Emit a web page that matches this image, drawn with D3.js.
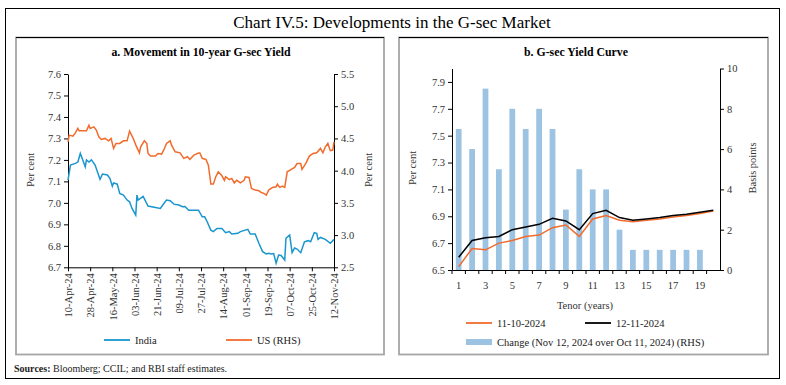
<!DOCTYPE html>
<html>
<head>
<meta charset="utf-8">
<script src="https://cdn.jsdelivr.net/npm/d3@7"></script>
<style>
body { margin: 0; background: #fff; }
svg { display: block; font-family: "Liberation Serif", "Times New Roman", serif; }
.tick text { fill: #333; }
</style>
</head>
<body>
<script>
// panel a: 10-year yields
var indiaDates = ["2024-04-10","2024-04-12","2024-04-16","2024-04-18","2024-04-20","2024-04-22","2024-04-24","2024-04-25","2024-04-27","2024-04-29","2024-05-02","2024-05-06","2024-05-08","2024-05-12","2024-05-14","2024-05-16","2024-05-17","2024-05-20","2024-05-22","2024-05-25","2024-05-28","2024-05-30","2024-06-01","2024-06-04","2024-06-05","2024-06-06","2024-06-10","2024-06-14","2024-06-19","2024-06-24","2024-06-27","2024-06-29","2024-07-02","2024-07-05","2024-07-09","2024-07-12","2024-07-14","2024-07-17","2024-07-21","2024-07-25","2024-07-28","2024-07-30","2024-08-01","2024-08-04","2024-08-06","2024-08-09","2024-08-13","2024-08-16","2024-08-19","2024-08-21","2024-08-26","2024-08-28","2024-09-03","2024-09-05","2024-09-09","2024-09-12","2024-09-15","2024-09-18","2024-09-20","2024-09-22","2024-09-24","2024-09-26","2024-09-28","2024-09-30","2024-10-03","2024-10-04","2024-10-07","2024-10-09","2024-10-11","2024-10-13","2024-10-16","2024-10-19","2024-10-22","2024-10-24","2024-10-27","2024-10-29","2024-10-30","2024-11-01","2024-11-05","2024-11-09","2024-11-12"];
var indiaVals = [7.106,7.176,7.184,7.19,7.23,7.20,7.168,7.20,7.19,7.20,7.176,7.11,7.134,7.13,7.114,7.078,7.093,7.087,7.044,7.036,7.013,7.005,6.974,6.943,7.036,7.013,7.03,6.985,6.98,6.974,6.998,7.013,7.01,6.994,6.99,6.982,6.983,6.966,6.966,6.966,6.935,6.935,6.912,6.873,6.866,6.881,6.881,6.861,6.866,6.855,6.858,6.866,6.877,6.855,6.855,6.812,6.773,6.762,6.765,6.762,6.764,6.719,6.757,6.755,6.734,6.835,6.85,6.768,6.79,6.785,6.768,6.819,6.824,6.819,6.861,6.858,6.83,6.839,6.83,6.812,6.83];
var usDates = ["2024-04-10","2024-04-11","2024-04-14","2024-04-16","2024-04-18","2024-04-19","2024-04-22","2024-04-25","2024-04-27","2024-04-28","2024-05-01","2024-05-03","2024-05-05","2024-05-07","2024-05-10","2024-05-13","2024-05-15","2024-05-17","2024-05-19","2024-05-22","2024-05-25","2024-05-28","2024-05-30","2024-06-02","2024-06-04","2024-06-07","2024-06-08","2024-06-11","2024-06-13","2024-06-14","2024-06-16","2024-06-20","2024-06-22","2024-06-25","2024-06-27","2024-06-29","2024-07-02","2024-07-03","2024-07-06","2024-07-10","2024-07-13","2024-07-16","2024-07-18","2024-07-21","2024-07-24","2024-07-26","2024-07-28","2024-07-31","2024-08-02","2024-08-04","2024-08-06","2024-08-08","2024-08-10","2024-08-13","2024-08-15","2024-08-16","2024-08-19","2024-08-21","2024-08-23","2024-08-25","2024-08-28","2024-08-31","2024-09-01","2024-09-04","2024-09-06","2024-09-09","2024-09-12","2024-09-14","2024-09-16","2024-09-18","2024-09-20","2024-09-23","2024-09-26","2024-09-27","2024-09-29","2024-10-01","2024-10-03","2024-10-05","2024-10-08","2024-10-11","2024-10-13","2024-10-16","2024-10-17","2024-10-20","2024-10-23","2024-10-26","2024-10-29","2024-11-01","2024-11-03","2024-11-05","2024-11-07","2024-11-09","2024-11-11","2024-11-12"];
var usVals = [4.447,4.551,4.536,4.587,4.655,4.618,4.618,4.618,4.706,4.655,4.68,4.63,4.525,4.484,4.50,4.463,4.50,4.345,4.422,4.422,4.463,4.463,4.613,4.50,4.40,4.277,4.37,4.463,4.42,4.267,4.226,4.226,4.267,4.257,4.329,4.422,4.463,4.40,4.292,4.277,4.19,4.216,4.174,4.236,4.267,4.277,4.19,4.174,4.086,3.791,3.791,3.905,3.982,3.92,3.85,3.905,3.86,3.88,3.81,3.85,3.81,3.85,3.905,3.895,3.725,3.698,3.687,3.66,3.647,3.62,3.698,3.74,3.75,3.79,3.74,3.76,3.74,3.982,4.017,4.05,4.11,4.11,4.02,4.11,4.226,4.267,4.277,4.345,4.277,4.37,4.422,4.31,4.32,4.447];

// panel b: yield curve
var tenors = [1,2,3,4,5,6,7,8,9,10,11,12,13,14,15,16,17,18,19,20];
var curveOct = [6.525,6.66,6.65,6.70,6.72,6.75,6.76,6.815,6.835,6.75,6.88,6.905,6.87,6.86,6.87,6.88,6.895,6.905,6.92,6.94];
var curveNov = [6.595,6.72,6.74,6.75,6.80,6.82,6.84,6.885,6.865,6.80,6.92,6.945,6.89,6.87,6.88,6.89,6.905,6.915,6.93,6.945];
var changeBp = [7,6,9,5,8,7,8,7,3,5,4,4,2,1,1,1,1,1,1,null];

var W = 786, H = 385;
var svg = d3.select("body").append("svg").attr("width", W).attr("height", H);
var parse = d3.timeParse("%Y-%m-%d");

// frames
svg.append("rect").attr("x", 5.5).attr("y", 8.5).attr("width", 774).attr("height", 370)
	.attr("fill", "none").attr("stroke", "#000").attr("stroke-width", 1);
svg.append("text").attr("x", 392).attr("y", 28).attr("text-anchor", "middle")
	.style("font-size", "17px").text("Chart IV.5: Developments in the G-sec Market");

function panelBox(x0, x1) {
	svg.append("rect").attr("x", x0).attr("y", 37.5).attr("width", x1 - x0).attr("height", 317)
		.attr("fill", "none").attr("stroke", "#a6a6a6").attr("stroke-width", 1.8);
	svg.append("line").attr("x1", x0).attr("x2", x1).attr("y1", 37.5).attr("y2", 37.5)
		.attr("stroke", "#000").attr("stroke-width", 1.2);
}
panelBox(16, 384);
panelBox(399, 768);

svg.append("text").attr("x", 201).attr("y", 56).attr("text-anchor", "middle")
	.style("font-size", "11.8px").style("font-weight", "bold").text("a. Movement in 10-year G-sec Yield");
svg.append("text").attr("x", 576).attr("y", 56).attr("text-anchor", "middle")
	.style("font-size", "11.8px").style("font-weight", "bold").text("b. G-sec Yield Curve");

function styleAxis(g) {
	g.selectAll(".tick text").style("font-size", "10.5px").style("font-family", "Liberation Serif, serif");
	g.select(".domain").attr("stroke", "#000");
	g.selectAll(".tick line").attr("stroke", "#000");
}

// ---- panel a
var start = parse("2024-04-10"), end = parse("2024-11-12");
var xa = d3.scaleTime().domain([start, end]).range([68, 334]);
var yaL = d3.scaleLinear().domain([6.7, 7.6]).range([267.3, 74]);
var yaR = d3.scaleLinear().domain([2.5, 5.5]).range([267.3, 74]);
var dateTicks = d3.range(0, 217, 18).map(function(d) { return d3.timeDay.offset(start, d); });

var gxa = svg.append("g").attr("transform", "translate(0,267.3)")
	.call(d3.axisBottom(xa).tickValues(dateTicks).tickFormat(d3.timeFormat("%d-%b-%y")).tickSize(4).tickSizeOuter(0));
styleAxis(gxa);
gxa.selectAll(".tick text").attr("transform", "rotate(-90)").attr("text-anchor", "end")
	.attr("x", -6).attr("y", 0).attr("dy", "0.35em");

var gyaL = svg.append("g").attr("transform", "translate(68,0)")
	.call(d3.axisLeft(yaL).tickValues(d3.range(6.7, 7.61, 0.1)).tickFormat(d3.format(".1f")).tickSize(4).tickSizeOuter(0));
styleAxis(gyaL);
var gyaR = svg.append("g").attr("transform", "translate(334,0)")
	.call(d3.axisRight(yaR).tickValues(d3.range(2.5, 5.51, 0.5)).tickFormat(d3.format(".1f")).tickSize(4).tickSizeOuter(0));
styleAxis(gyaR);

svg.append("text").attr("transform", "translate(34,170) rotate(-90)").attr("text-anchor", "middle")
	.style("font-size", "10.5px").attr("fill", "#333").text("Per cent");
svg.append("text").attr("transform", "translate(372,170) rotate(-90)").attr("text-anchor", "middle")
	.style("font-size", "10.5px").attr("fill", "#333").text("Per cent");

var india = indiaDates.map(function(d, i) { return { date: parse(d), v: indiaVals[i] }; });
var us = usDates.map(function(d, i) { return { date: parse(d), v: usVals[i] }; });

svg.append("path").datum(india).attr("fill", "none").attr("stroke", "#1a96cf").attr("stroke-width", 1.5)
	.attr("d", d3.line().x(function(d) { return xa(d.date); }).y(function(d) { return yaL(d.v); }));
svg.append("path").datum(us).attr("fill", "none").attr("stroke", "#f26b2d").attr("stroke-width", 1.5)
	.attr("d", d3.line().x(function(d) { return xa(d.date); }).y(function(d) { return yaR(d.v); }));

function legendLine(x, y, color, label) {
	svg.append("line").attr("x1", x).attr("x2", x + 26).attr("y1", y).attr("y2", y)
		.attr("stroke", color).attr("stroke-width", 1.8);
	svg.append("text").attr("x", x + 31).attr("y", y + 3.5).style("font-size", "10.5px").attr("fill", "#222").text(label);
}
legendLine(104, 340, "#1a96cf", "India");
legendLine(226, 340, "#f26b2d", "US (RHS)");

// ---- panel b
var xb = d3.scaleBand().domain(tenors).range([452, 720]);
var ybL = d3.scaleLinear().domain([6.5, 8.0]).range([270, 68.5]);
var ybR = d3.scaleLinear().domain([0, 10]).range([270, 68.5]);

var barW = xb.bandwidth() * 0.43;
svg.append("g").selectAll("rect").data(tenors.filter(function(t, i) { return changeBp[i] != null; }))
	.enter().append("rect")
	.attr("x", function(t) { return xb(t) + (xb.bandwidth() - barW) / 2; })
	.attr("width", barW)
	.attr("y", function(t) { return ybR(changeBp[t - 1]); })
	.attr("height", function(t) { return ybR(0) - ybR(changeBp[t - 1]); })
	.attr("fill", "#9dc3e2");

var lineB = d3.line().x(function(d, i) { return xb(tenors[i]) + xb.bandwidth() / 2; }).y(function(d) { return ybL(d); });
svg.append("path").datum(curveOct).attr("fill", "none").attr("stroke", "#f26b2d").attr("stroke-width", 1.5).attr("d", lineB);
svg.append("path").datum(curveNov).attr("fill", "none").attr("stroke", "#000").attr("stroke-width", 1.5).attr("d", lineB);

var gxb = svg.append("g").attr("transform", "translate(0,270)")
	.call(d3.axisBottom(xb).tickValues(tenors.filter(function(t) { return t % 2 == 1; })).tickSize(0).tickSizeOuter(0).tickPadding(12));
styleAxis(gxb);
// tick marks between categories
svg.append("g").selectAll("line").data(tenors).enter().append("line")
	.attr("x1", function(t) { return xb(t); }).attr("x2", function(t) { return xb(t); })
	.attr("y1", 270).attr("y2", 274).attr("stroke", "#000");

var gybL = svg.append("g").attr("transform", "translate(452,0)")
	.call(d3.axisLeft(ybL).tickValues(d3.range(6.5, 7.91, 0.2)).tickFormat(d3.format(".1f")).tickSize(4).tickSizeOuter(0));
styleAxis(gybL);
var gybR = svg.append("g").attr("transform", "translate(720,0)")
	.call(d3.axisRight(ybR).tickValues(d3.range(0, 11, 2)).tickSize(4).tickSizeOuter(0));
styleAxis(gybR);

svg.append("text").attr("transform", "translate(416,168) rotate(-90)").attr("text-anchor", "middle")
	.style("font-size", "10.5px").attr("fill", "#333").text("Per cent");
svg.append("text").attr("transform", "translate(756,168) rotate(-90)").attr("text-anchor", "middle")
	.style("font-size", "10.5px").attr("fill", "#333").text("Basis points");
svg.append("text").attr("x", 585).attr("y", 309).attr("text-anchor", "middle")
	.style("font-size", "10.5px").attr("fill", "#333").text("Tenor (years)");

legendLine(466, 323, "#f26b2d", "11-10-2024");
legendLine(585, 323, "#000", "12-11-2024");
svg.append("rect").attr("x", 466).attr("y", 339).attr("width", 26).attr("height", 6).attr("fill", "#9dc3e2");
svg.append("text").attr("x", 497).attr("y", 345.5).style("font-size", "10.5px").attr("fill", "#222")
	.text("Change (Nov 12, 2024 over Oct 11, 2024) (RHS)");

// sources
var src = svg.append("text").attr("x", 14).attr("y", 372).style("font-size", "10px").attr("fill", "#222");
src.append("tspan").style("font-weight", "bold").text("Sources:");
src.append("tspan").text(" Bloomberg; CCIL; and RBI staff estimates.");
</script>
</body>
</html>
